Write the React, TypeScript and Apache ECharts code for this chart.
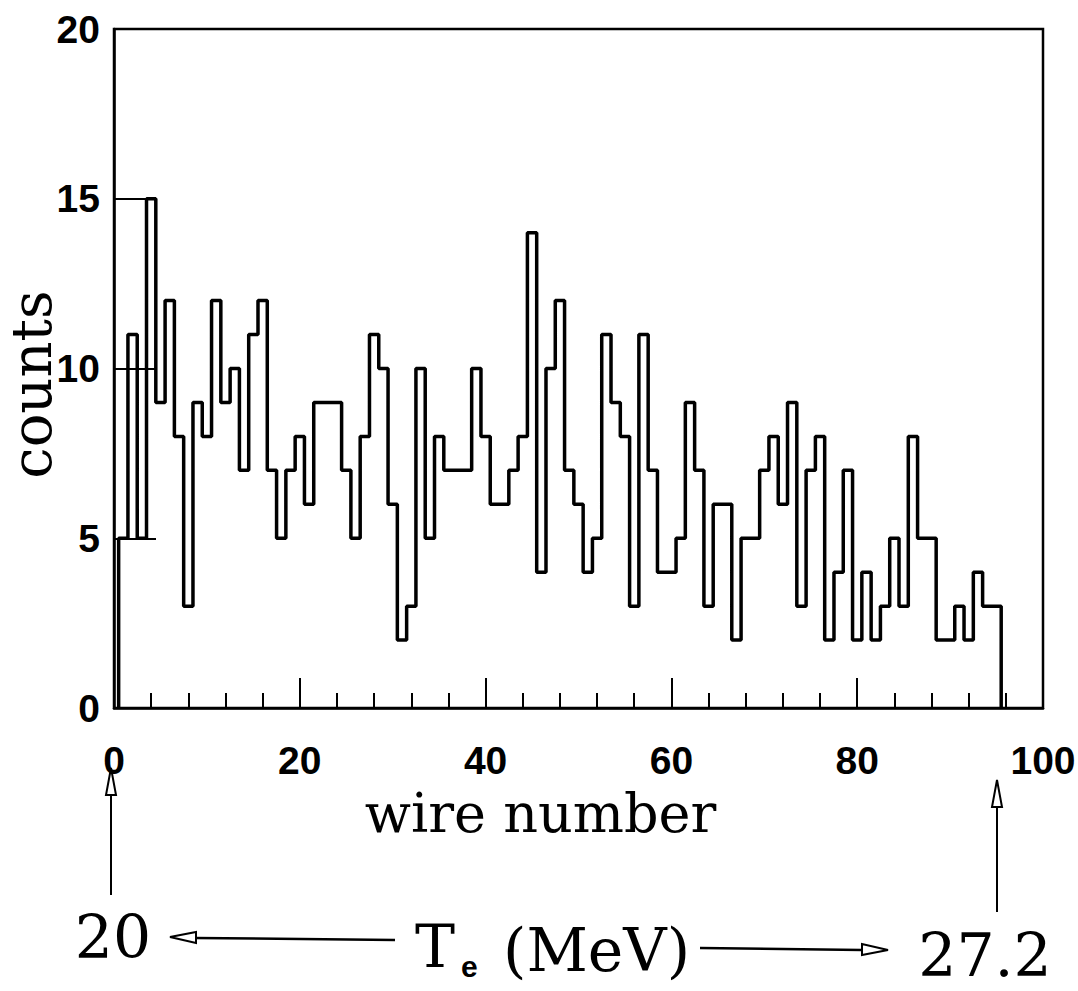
import React, { useEffect, useRef } from "react";
import * as echarts from "echarts";

// counts per wire, wires 1..95 (bin of width 1 centred on each wire)
const firstWire = 1;
const counts = [
  5, 11, 5, 15, 9, 12, 8, 3, 9, 8,
  12, 9, 10, 7, 11, 12, 7, 5, 7, 8,
  6, 9, 9, 9, 7, 5, 8, 11, 10, 6,
  2, 3, 10, 5, 8, 7, 7, 7, 10, 8,
  6, 6, 7, 8, 14, 4, 10, 12, 7, 6,
  4, 5, 11, 9, 8, 3, 11, 7, 4, 4,
  5, 9, 7, 3, 6, 6, 2, 5, 5, 7,
  8, 6, 9, 3, 7, 8, 2, 4, 7, 2,
  4, 2, 3, 5, 3, 8, 5, 5, 2, 2,
  3, 2, 4, 3, 3,
];
const xTicks = [0, 20, 40, 60, 80, 100];
const yTicks = [0, 5, 10, 15, 20];
const energyLow = "20";
const energyHigh = "27.2";

export default function App() {
  const ref = useRef<HTMLDivElement>(null);
  useEffect(() => {
    if (!ref.current) return;
    const chart = echarts.init(ref.current, null, { renderer: "svg" });
    const stepData: number[][] = [[firstWire - 0.5, 0]];
    counts.forEach((c, i) => stepData.push([firstWire + i - 0.5, c]));
    stepData.push([firstWire + counts.length - 0.5, 0]);

    const serif = "DejaVu Serif";
    const sans = "Liberation Sans";
    const black = "#000";

    chart.setOption({
      animation: false,
      backgroundColor: "#fff",
      grid: {
        left: 114,
        right: 35,
        top: 29,
        bottom: 283,
        containLabel: false,
        outerBoundsMode: "none",
        show: true,
        borderColor: black,
        borderWidth: 2.5,
        backgroundColor: "transparent",
      },
      xAxis: {
        type: "value",
        min: xTicks[0],
        max: xTicks[xTicks.length - 1],
        interval: xTicks[1] - xTicks[0],
        name: "wire number",
        nameLocation: "middle",
        nameGap: 78,
        nameMoveOverlap: false,
        nameTextStyle: {
          fontFamily: serif,
          fontSize: 54,
          color: black,
          padding: [0, 76, 0, 0],
        },
        axisLine: { show: true, lineStyle: { color: black, width: 2.5 } },
        axisTick: { show: true, inside: true, length: 30, lineStyle: { color: black, width: 2 } },
        minorTick: { show: true, splitNumber: 5, length: 15, lineStyle: { color: black, width: 2 } },
        splitLine: { show: false },
        minorSplitLine: { show: false },
        axisLabel: {
          show: true,
          margin: 33,
          fontFamily: sans,
          fontWeight: "bold",
          fontSize: 39,
          color: black,
          formatter: (v: number) => String(v),
        },
      },
      yAxis: {
        type: "value",
        min: yTicks[0],
        max: yTicks[yTicks.length - 1],
        interval: yTicks[1] - yTicks[0],
        name: "counts",
        nameLocation: "middle",
        nameRotate: 90,
        nameGap: 55,
        nameMoveOverlap: false,
        nameTextStyle: {
          fontFamily: serif,
          fontSize: 56,
          color: black,
          padding: [0, 32, 0, 0],
        },
        axisLine: { show: true, lineStyle: { color: black, width: 2.5 } },
        axisTick: { show: true, inside: true, length: 42, lineStyle: { color: black, width: 2 } },
        splitLine: { show: false },
        axisLabel: {
          show: true,
          margin: 14,
          fontFamily: sans,
          fontWeight: "bold",
          fontSize: 39,
          color: black,
        },
      },
      series: [
        {
          type: "line",
          step: "end",
          data: stepData,
          symbol: "none",
          lineStyle: { color: black, width: 3.5 },
          silent: true,
        },
      ],
      graphic: [
        // left vertical arrow
        { type: "line", shape: { x1: 111, y1: 895, x2: 111, y2: 793 }, style: { stroke: black, lineWidth: 2 } },
        { type: "polygon", shape: { points: [[111, 768], [106, 795], [116, 795]] }, style: { fill: "#fff", stroke: black, lineWidth: 2 } },
        // right vertical arrow
        { type: "line", shape: { x1: 997, y1: 912, x2: 997, y2: 806 }, style: { stroke: black, lineWidth: 2 } },
        { type: "polygon", shape: { points: [[997, 780], [992, 807], [1002, 807]] }, style: { fill: "#fff", stroke: black, lineWidth: 2 } },
        // left horizontal arrow
        { type: "line", shape: { x1: 195, y1: 938, x2: 395, y2: 940 }, style: { stroke: black, lineWidth: 2.5 } },
        { type: "polygon", shape: { points: [[170, 937], [196, 932], [196, 943]] }, style: { fill: "#fff", stroke: black, lineWidth: 2 } },
        // right horizontal arrow
        { type: "line", shape: { x1: 700, y1: 948, x2: 862, y2: 950 }, style: { stroke: black, lineWidth: 2.5 } },
        { type: "polygon", shape: { points: [[888, 950], [862, 944], [862, 955]] }, style: { fill: "#fff", stroke: black, lineWidth: 2 } },
        // texts
        { type: "text", x: 113, y: 937, style: { text: energyLow, font: `60px "${serif}"`, fill: black, textAlign: "center", textVerticalAlign: "middle" } },
        { type: "text", x: 415, y: 946, style: { text: "T", font: `60px "${serif}"`, fill: black, textAlign: "left", textVerticalAlign: "middle" } },
        { type: "text", x: 461, y: 966, style: { text: "e", font: `bold 30px "${sans}"`, fill: black, textAlign: "left", textVerticalAlign: "middle" } },
        { type: "text", x: 503, y: 950, style: { text: "(MeV)", font: `60px "${serif}"`, fill: black, textAlign: "left", textVerticalAlign: "middle" } },
        { type: "text", x: 985, y: 955, style: { text: energyHigh, font: `60px "${serif}"`, fill: black, textAlign: "center", textVerticalAlign: "middle" } },
      ],
    });
    return () => chart.dispose();
  }, []);
  return (
    <div
      ref={ref}
      style={{ position: "fixed", left: 0, top: 0, width: 1078, height: 991, background: "#fff" }}
    />
  );
}
